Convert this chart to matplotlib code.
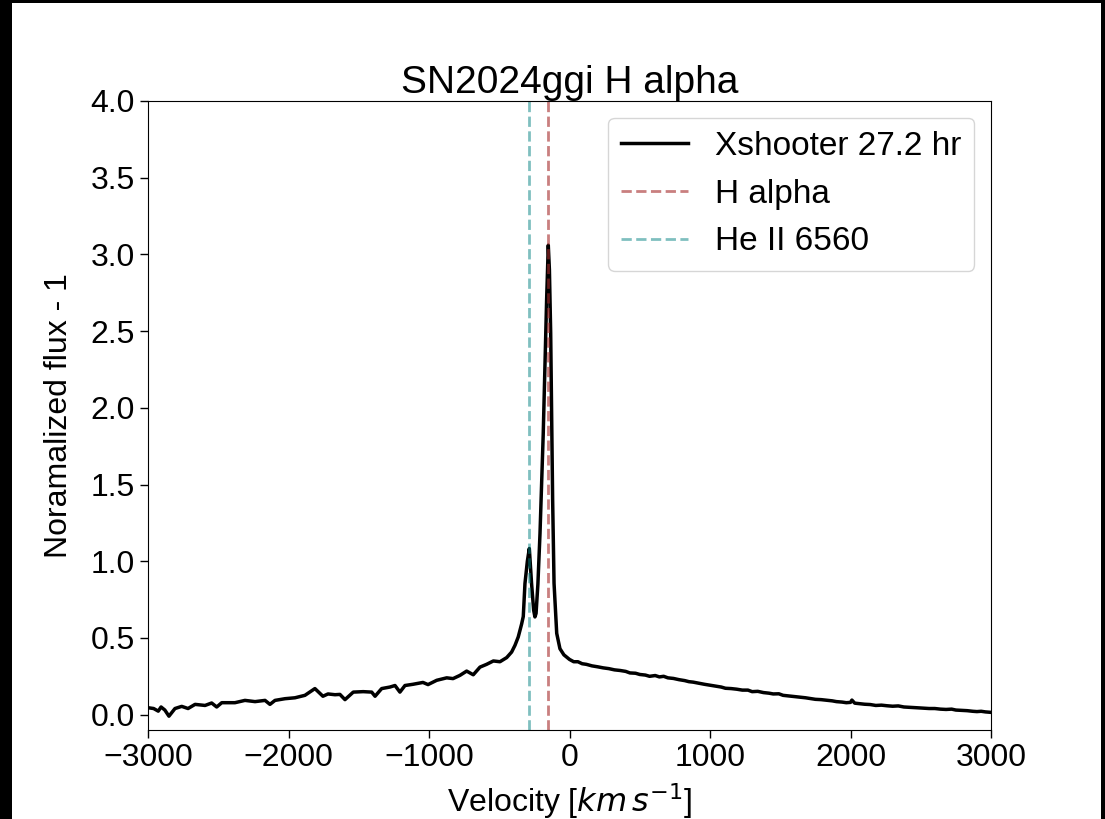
import matplotlib
matplotlib.use("Agg")
import matplotlib.pyplot as plt
from matplotlib.patches import Rectangle

plt.rcParams['font.family'] = ['Liberation Sans', 'DejaVu Sans']

# spectrum (velocity in km/s, normalized flux - 1)
velocity = [-2998, -2960, -2927, -2907, -2880, -2851, -2808, -2760, -2715, -2665,
            -2594, -2547, -2511, -2475, -2381, -2310, -2238, -2167, -2132, -2096,
            -2025, -1954, -1883, -1812, -1755, -1719, -1669, -1634, -1598, -1539,
            -1468, -1408, -1384, -1337, -1278, -1242, -1207, -1171, -1114, -1043,
            -1007, -945, -874, -829, -780, -732, -685, -637, -590, -542,
            -495, -447, -412, -388, -365, -341, -329, -317, -300, -286,
            -270, -255, -246, -238, -225, -210, -187, -175, -163, -151,
            -143, -134, -120, -110, -91, -68, -40, 0, 30, 60,
            90, 120, 160, 200, 240, 280, 320, 360, 400, 430,
            470, 500, 540, 570, 610, 640, 670, 700, 740, 780,
            820, 850, 880, 920, 960, 1000, 1040, 1080, 1110, 1150,
            1190, 1230, 1270, 1300, 1340, 1380, 1420, 1450, 1490, 1520,
            1560, 1600, 1640, 1680, 1720, 1750, 1790, 1830, 1870, 1900,
            1940, 1970, 2000, 2010, 2030, 2060, 2100, 2140, 2180, 2220,
            2260, 2300, 2340, 2380, 2420, 2450, 2490, 2520, 2560, 2600,
            2640, 2680, 2720, 2750, 2790, 2830, 2870, 2900, 2930, 2960, 3000]
flux = [0.045, 0.040, 0.023, 0.050, 0.030, -0.010, 0.040, 0.054, 0.040, 0.067,
        0.060, 0.076, 0.050, 0.078, 0.078, 0.093, 0.085, 0.093, 0.067, 0.093,
        0.104, 0.110, 0.126, 0.170, 0.120, 0.135, 0.130, 0.132, 0.098, 0.147,
        0.150, 0.147, 0.120, 0.170, 0.180, 0.190, 0.147, 0.190, 0.198, 0.210,
        0.196, 0.224, 0.240, 0.235, 0.256, 0.284, 0.260, 0.310, 0.328, 0.350,
        0.345, 0.372, 0.408, 0.452, 0.506, 0.590, 0.640, 0.855, 1.000, 1.083,
        0.855, 0.680, 0.637, 0.660, 0.850, 1.180, 1.830, 2.270, 2.700, 3.060,
        2.900, 2.490, 1.400, 0.856, 0.530, 0.430, 0.390, 0.360, 0.345, 0.345,
        0.332, 0.328, 0.318, 0.312, 0.305, 0.300, 0.292, 0.288, 0.282, 0.272,
        0.270, 0.262, 0.258, 0.250, 0.255, 0.246, 0.250, 0.240, 0.236, 0.228,
        0.222, 0.215, 0.212, 0.205, 0.198, 0.192, 0.186, 0.180, 0.172, 0.170,
        0.166, 0.160, 0.160, 0.150, 0.152, 0.144, 0.140, 0.135, 0.136, 0.126,
        0.122, 0.118, 0.114, 0.110, 0.104, 0.100, 0.098, 0.094, 0.090, 0.085,
        0.082, 0.078, 0.080, 0.095, 0.075, 0.072, 0.068, 0.066, 0.060, 0.062,
        0.058, 0.055, 0.057, 0.050, 0.048, 0.046, 0.044, 0.042, 0.040, 0.040,
        0.036, 0.034, 0.036, 0.030, 0.028, 0.026, 0.022, 0.020, 0.022, 0.018, 0.015]

halpha_v = -151
heii_v = -288

fig = plt.figure(figsize=(11.05, 8.19), dpi=100, facecolor='black')
fig.add_artist(Rectangle((12 / 1105, 0), 1089 / 1105, 816 / 819,
                         transform=fig.transFigure, facecolor='white',
                         edgecolor='none', zorder=-1))
ax = fig.add_axes([148 / 1105, 89 / 819, 843 / 1105, 629 / 819])

ax.plot(velocity, flux, color='black', lw=2.5, label='Xshooter 27.2 hr')
ax.axvline(halpha_v, color='brown', alpha=0.6, ls='--', lw=2, label='H alpha')
ax.axvline(heii_v, color='teal', alpha=0.5, ls='--', lw=2, label='He II 6560')

ax.set_xlim(-3000, 3000)
ax.set_ylim(-0.1, 4.0)
ax.set_yticks([0.0, 0.5, 1.0, 1.5, 2.0, 2.5, 3.0, 3.5, 4.0])
ax.tick_params(labelsize=23, length=6, width=1)
ax.set_title('SN2024ggi H alpha', fontsize=28, pad=6)
ax.set_xlabel(r'Velocity [$km\,s^{-1}$]', fontsize=23, labelpad=6)
ax.set_ylabel('Noramalized flux - 1', fontsize=23, labelpad=12)
ax.legend(loc='upper right', fontsize=24)

fig.savefig('out.png', dpi=100, facecolor=fig.get_facecolor())
